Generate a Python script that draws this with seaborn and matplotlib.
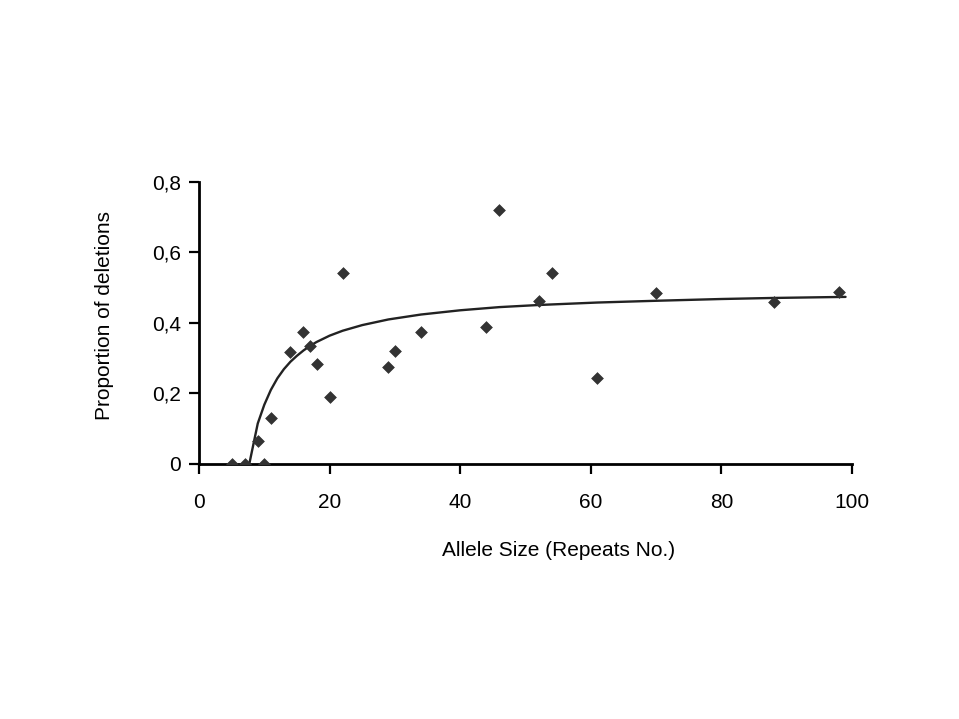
import matplotlib
matplotlib.use("Agg")
import matplotlib.pyplot as plt
import seaborn as sns
from matplotlib.ticker import FuncFormatter

# observed proportions of deletions per allele size
allele_size = [5, 7, 9, 10, 11, 14, 16, 17, 18, 20, 22, 29, 30, 34,
               44, 46, 52, 54, 61, 70, 88, 98]
prop_deletions = [0.0, 0.0, 0.065, 0.0, 0.13, 0.318, 0.375, 0.335, 0.284, 0.19, 0.542,
                  0.275, 0.32, 0.374, 0.389, 0.72, 0.462, 0.542, 0.244, 0.485, 0.46, 0.488]

# fitted curve
fit_x = [7.7, 9, 10, 11, 12, 13, 14, 15, 16, 17, 18, 20, 22, 25, 29, 34,
         40, 46, 52, 61, 70, 80, 88, 99]
fit_y = [0.0, 0.115, 0.168, 0.21, 0.243, 0.269, 0.29, 0.307, 0.322, 0.335, 0.346, 0.364,
         0.378, 0.394, 0.41, 0.424, 0.436, 0.445, 0.451, 0.458, 0.463, 0.468, 0.471, 0.474]

x_ticks = [0, 20, 40, 60, 80, 100]
y_ticks = [0, 0.2, 0.4, 0.6, 0.8]

sns.set_style("ticks")
plt.rcParams['font.family'] = ['Liberation Sans', 'DejaVu Sans']

fig = plt.figure(figsize=(9.59, 7.19), dpi=100)
ax = fig.add_axes([0.2075, 0.3547, 0.681, 0.3922])

sns.lineplot(x=fit_x, y=fit_y, ax=ax, color='#222222', linewidth=1.7, sort=False)
sns.scatterplot(x=allele_size, y=prop_deletions, ax=ax, marker='D', s=36,
                color='#333333', edgecolor='#333333', zorder=3)

ax.set_xlim(0, 100)
ax.set_ylim(0, 0.8)
ax.set_xticks(x_ticks)
ax.set_yticks(y_ticks)
ax.yaxis.set_major_formatter(FuncFormatter(lambda v, p: '0' if v == 0 else f'{v:.1f}'.replace('.', ',')))

for side in ['top', 'right']:
    ax.spines[side].set_visible(False)
for side in ['left', 'bottom']:
    ax.spines[side].set_linewidth(2)
    ax.spines[side].set_color('black')

ax.tick_params(axis='both', direction='out', length=7, width=1.6, colors='black', labelsize=15)
ax.tick_params(axis='x', pad=14)
ax.tick_params(axis='y', pad=6)

ax.set_xlabel('Allele Size (Repeats No.)', fontsize=15, color='black')
ax.set_ylabel('Proportion of deletions', fontsize=15, color='black')
ax.xaxis.set_label_coords(0.551, -0.273)
ax.yaxis.set_label_coords(-0.130, 0.525)

plt.savefig('out.png', dpi=100)
plt.close()
